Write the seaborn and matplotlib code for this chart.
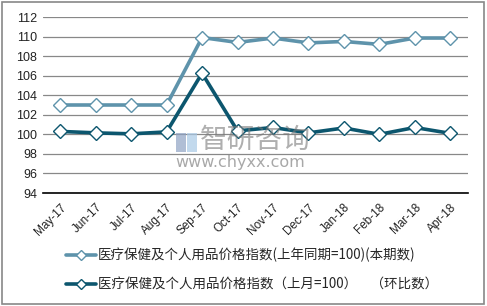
import matplotlib
matplotlib.use("Agg")
import matplotlib.pyplot as plt
import seaborn as sns
import pandas as pd
import numpy as np
from matplotlib.lines import Line2D

months = ["May-17", "Jun-17", "Jul-17", "Aug-17", "Sep-17", "Oct-17",
          "Nov-17", "Dec-17", "Jan-18", "Feb-18", "Mar-18", "Apr-18"]
yoy = [103.0, 103.0, 103.0, 103.0, 109.9, 109.4, 109.85, 109.35, 109.5, 109.2, 109.85, 109.85]
mom = [100.3, 100.15, 100.05, 100.25, 106.25, 100.35, 100.7, 100.15, 100.65, 100.0, 100.7, 100.1]
label_yoy = "医疗保健及个人用品价格指数(上年同期=100)(本期数)"
label_mom = "医疗保健及个人用品价格指数（上月=100）\u3000（环比数）"
yticks = [94, 96, 98, 100, 102, 104, 106, 108, 110, 112]

sns.set_style("white")
plt.rcParams['font.family'] = ['Noto Sans CJK SC', 'DejaVu Sans']

c1 = "#5e93ab"
c2 = "#0c566e"

df = pd.DataFrame({"x": np.arange(len(months)), "yoy": yoy, "mom": mom})

fig = plt.figure(figsize=(4.87, 3.06), dpi=100)
ax = fig.add_axes([42.5/487, 1 - 193/306, (468 - 42.5)/487, (193 - 17)/306])

sns.lineplot(data=df, x="x", y="yoy", ax=ax, color=c1, linewidth=2.6,
             marker="D", markersize=7.5, markerfacecolor="white",
             markeredgecolor=c1, markeredgewidth=1.0, zorder=3)
sns.lineplot(data=df, x="x", y="mom", ax=ax, color=c2, linewidth=2.6,
             marker="D", markersize=7.5, markerfacecolor="white",
             markeredgecolor=c2, markeredgewidth=1.0, zorder=3)

ax.set_xlim(-0.5, len(months) - 0.5)
ax.set_ylim(94, 112)
ax.set_yticks(yticks)
ax.set_yticklabels([str(v) for v in yticks], fontsize=9, color="#222222",
                   family=['Liberation Sans', 'DejaVu Sans'])
ax.yaxis.grid(True, color="#888888", linewidth=0.9)
ax.set_axisbelow(True)
ax.set_xticks(np.arange(len(months)))
ax.set_xticklabels(months, rotation=45, ha="right", rotation_mode="anchor",
                   fontsize=8.5, color="#222222", family=['Liberation Sans', 'DejaVu Sans'])
ax.set_xticks(np.arange(len(months) + 1) - 0.5, minor=True)
ax.tick_params(axis="x", which="major", length=0, pad=6)
ax.tick_params(axis="x", which="minor", length=4, width=1, color="black", direction="in")
ax.tick_params(axis="y", length=0, pad=4)
ax.set_xlabel("")
ax.set_ylabel("")
for s in ["left", "right", "top"]:
    ax.spines[s].set_visible(False)
ax.spines["bottom"].set_color("black")
ax.spines["bottom"].set_linewidth(1.2)
ax.spines["bottom"].set_zorder(4)

# watermark
fig.text(200/487, 1 - 140/306, "智研咨询", fontsize=20, color="#7a7a7a", alpha=0.6,
         va="center", ha="left")
fig.text(175/487, 1 - 163/306, "www.chyxx.com", fontsize=11.5, color="#7a7a7a", alpha=0.65,
         va="center", ha="left", family=['DejaVu Sans'])
fig.patches.append(plt.Rectangle((176/487, 1 - 152/306), 10/487, 19/306,
                                 transform=fig.transFigure, facecolor="#8fa3c4",
                                 alpha=0.7, edgecolor="none"))
fig.patches.append(plt.Rectangle((187/487, 1 - 152/306), 10/487, 19/306,
                                 transform=fig.transFigure, facecolor="#a9c9e6",
                                 alpha=0.7, edgecolor="none"))

handles = [
    Line2D([], [], color=c1, linewidth=2.6, marker="D", markersize=5.5,
           markerfacecolor="white", markeredgecolor=c1),
    Line2D([], [], color=c2, linewidth=2.6, marker="D", markersize=5.5,
           markerfacecolor="white", markeredgecolor=c2),
]
fig.legend(handles, [label_yoy, label_mom], loc="upper left",
           bbox_to_anchor=(66/487, 1 - 248/306), frameon=False, fontsize=9.7,
           handlelength=2.2, labelspacing=1.1, handletextpad=0.15, borderaxespad=0,
           borderpad=0)

fig.patches.append(plt.Rectangle((0.004, 0.005), 0.99, 0.99, transform=fig.transFigure,
                                 facecolor="none", edgecolor="#888888", linewidth=1.2))

fig.savefig("out.png", dpi=100)
